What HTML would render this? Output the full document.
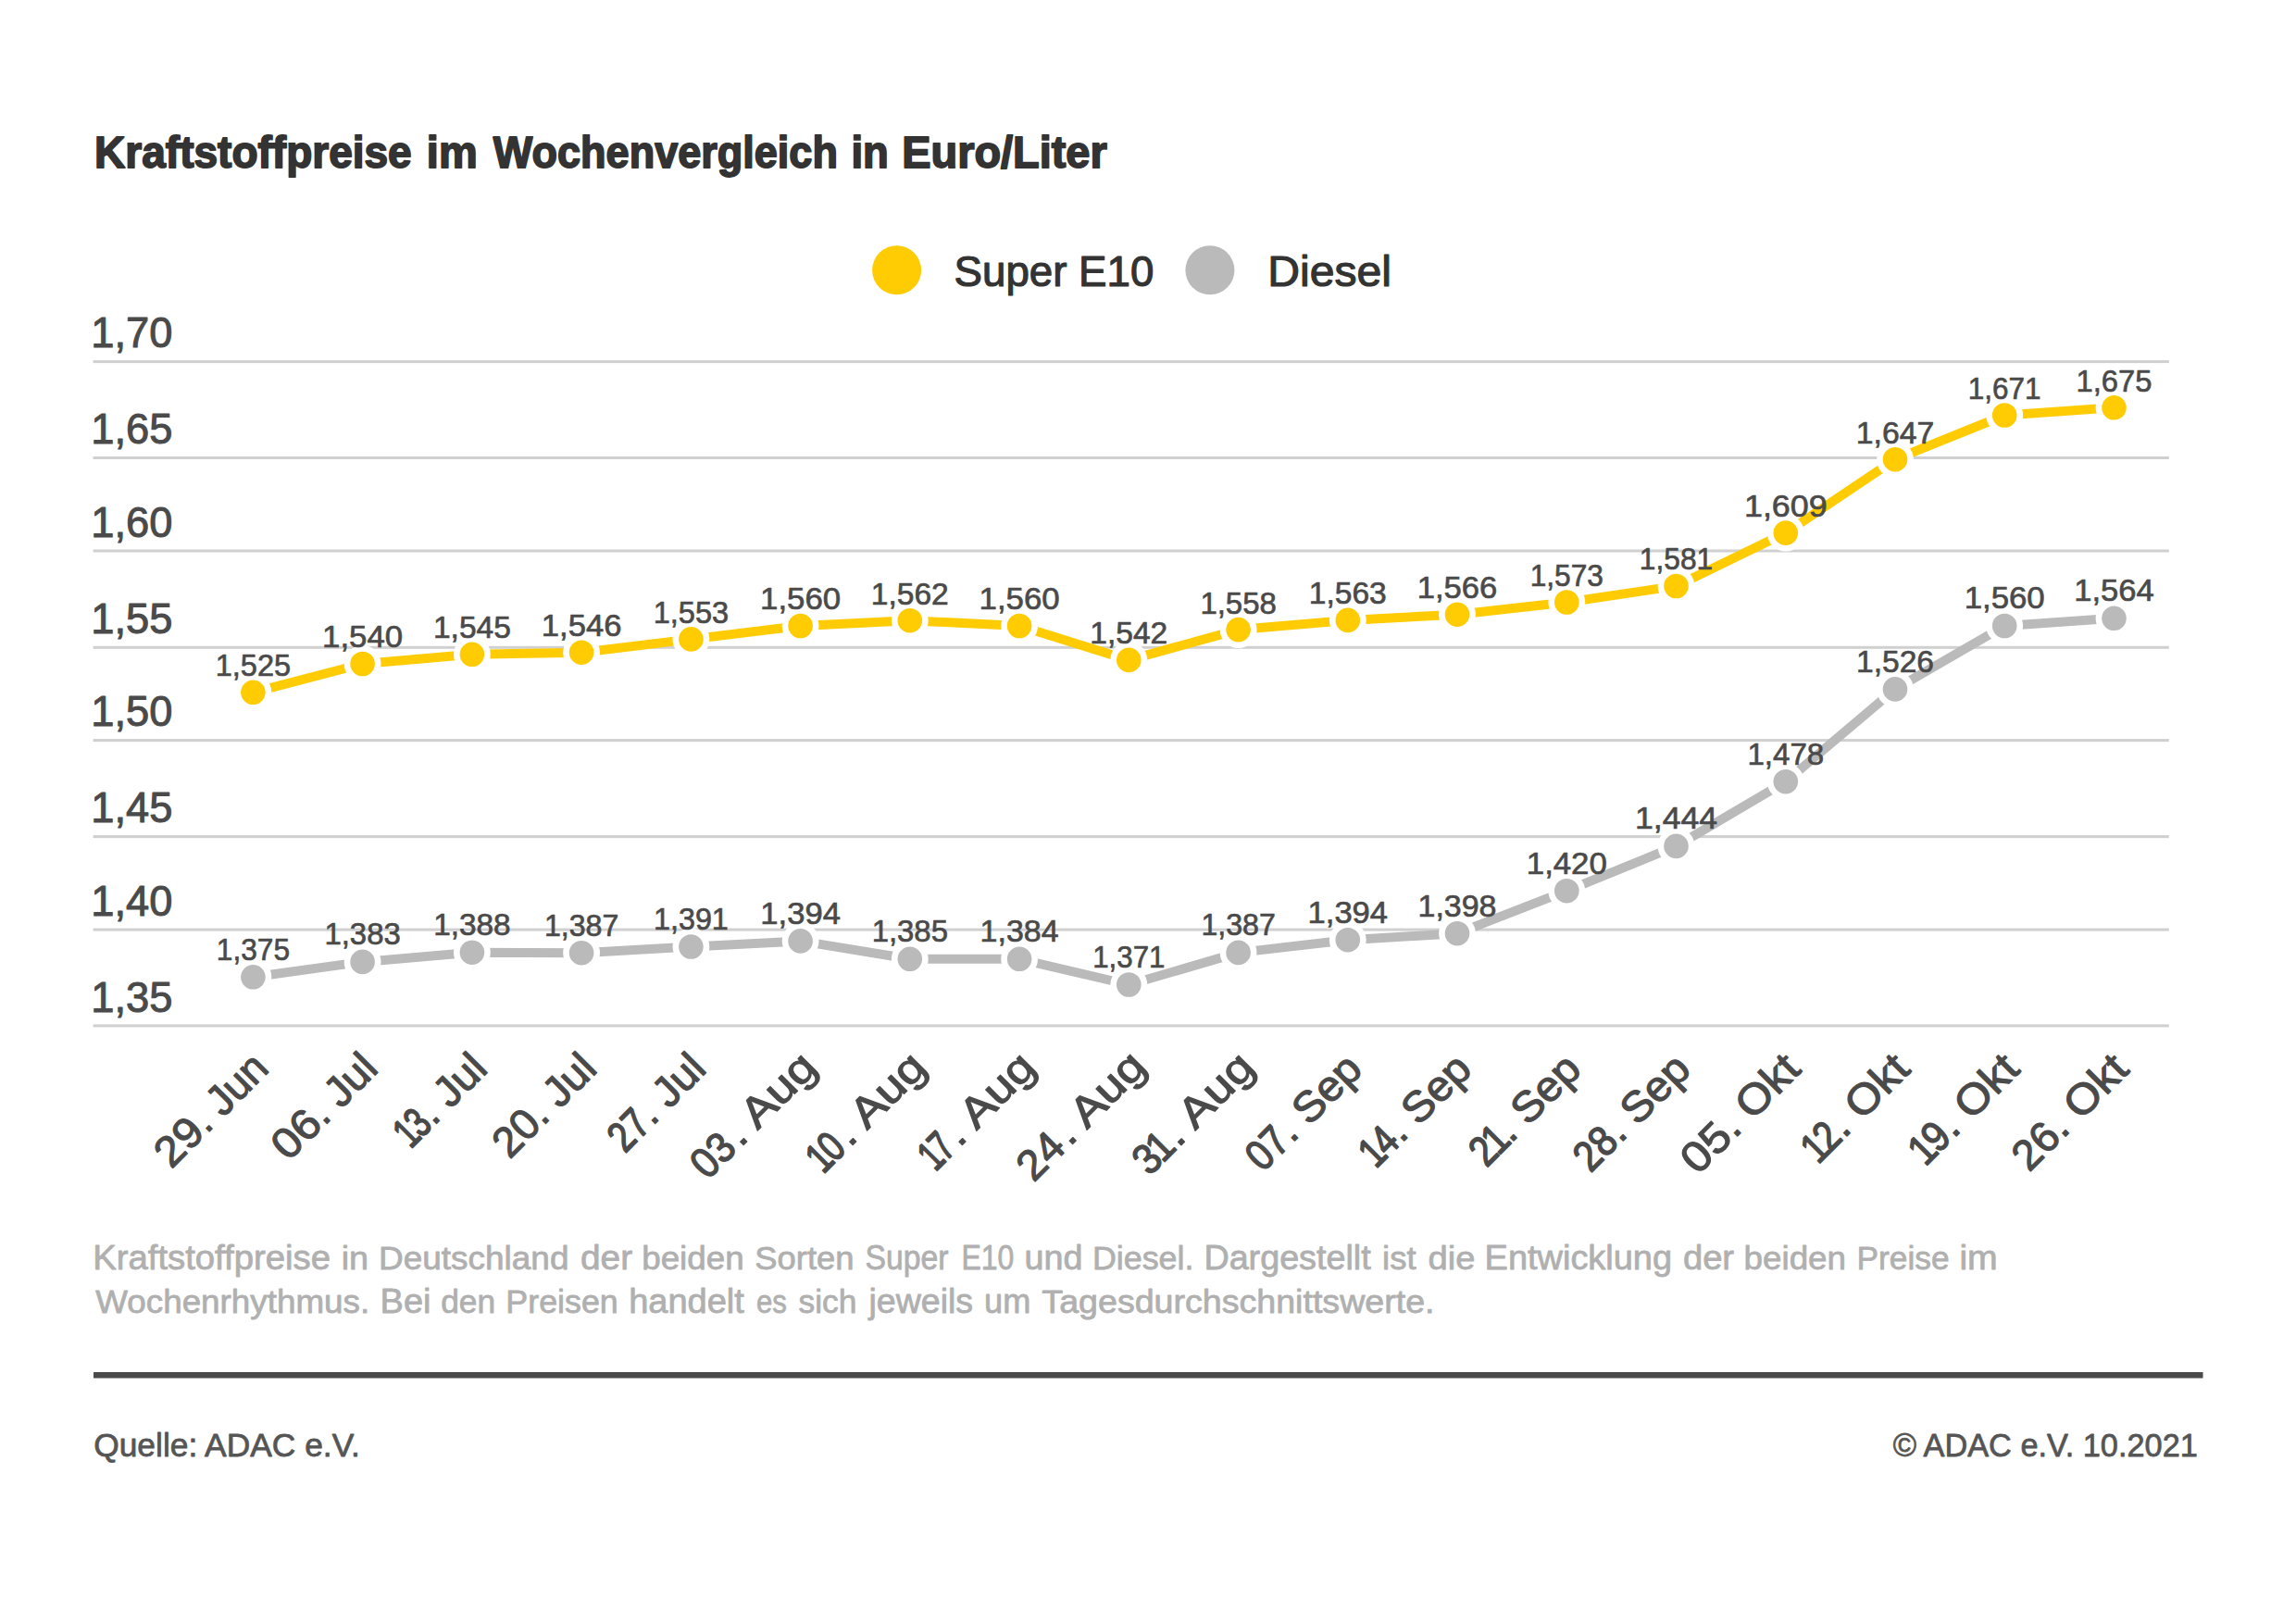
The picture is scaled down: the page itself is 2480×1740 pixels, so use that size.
<!DOCTYPE html>
<html lang="de"><head><meta charset="utf-8"><title>Kraftstoffpreise im Wochenvergleich</title>
<style>html,body{margin:0;padding:0;background:#fff}svg{display:block}text{font-family:'Liberation Sans', sans-serif;stroke-linejoin:round}</style></head>
<body><svg width="2480" height="1740" viewBox="0 0 2480 1740">
<rect width="2480" height="1740" fill="#ffffff"/>
<rect x="100.6" y="389.1" width="2242.2" height="3" fill="#d0d0d0"/>
<rect x="100.6" y="493.0" width="2242.2" height="3" fill="#d0d0d0"/>
<rect x="100.6" y="593.5" width="2242.2" height="3" fill="#d0d0d0"/>
<rect x="100.6" y="697.8" width="2242.2" height="3" fill="#d0d0d0"/>
<rect x="100.6" y="798.1" width="2242.2" height="3" fill="#d0d0d0"/>
<rect x="100.6" y="902.1" width="2242.2" height="3" fill="#d0d0d0"/>
<rect x="100.6" y="1002.6" width="2242.2" height="3" fill="#d0d0d0"/>
<rect x="100.6" y="1106.4" width="2242.2" height="3" fill="#d0d0d0"/>
<polyline fill="none" stroke="#bababa" stroke-width="10" stroke-linejoin="round" points="273.4,1055.3 391.6,1038.9 509.9,1028.7 628.1,1029.2 746.4,1022.5 864.6,1016.4 982.8,1035.8 1101.1,1035.8 1219.3,1063.5 1337.6,1028.9 1455.8,1015.2 1574.0,1008.2 1692.3,962.2 1810.5,913.9 1928.8,844.2 2047.0,744.4 2165.2,676.0 2283.5,667.8"/>
<circle cx="273.4" cy="1055.3" r="16.6" fill="#bababa" stroke="#ffffff" stroke-width="6.6"/>
<circle cx="391.6" cy="1038.9" r="16.6" fill="#bababa" stroke="#ffffff" stroke-width="6.6"/>
<circle cx="509.9" cy="1028.7" r="16.6" fill="#bababa" stroke="#ffffff" stroke-width="6.6"/>
<circle cx="628.1" cy="1029.2" r="16.6" fill="#bababa" stroke="#ffffff" stroke-width="6.6"/>
<circle cx="746.4" cy="1022.5" r="16.6" fill="#bababa" stroke="#ffffff" stroke-width="6.6"/>
<circle cx="864.6" cy="1016.4" r="16.6" fill="#bababa" stroke="#ffffff" stroke-width="6.6"/>
<circle cx="982.8" cy="1035.8" r="16.6" fill="#bababa" stroke="#ffffff" stroke-width="6.6"/>
<circle cx="1101.1" cy="1035.8" r="16.6" fill="#bababa" stroke="#ffffff" stroke-width="6.6"/>
<circle cx="1219.3" cy="1063.5" r="16.6" fill="#bababa" stroke="#ffffff" stroke-width="6.6"/>
<circle cx="1337.6" cy="1028.9" r="16.6" fill="#bababa" stroke="#ffffff" stroke-width="6.6"/>
<circle cx="1455.8" cy="1015.2" r="16.6" fill="#bababa" stroke="#ffffff" stroke-width="6.6"/>
<circle cx="1574.0" cy="1008.2" r="16.6" fill="#bababa" stroke="#ffffff" stroke-width="6.6"/>
<circle cx="1692.3" cy="962.2" r="16.6" fill="#bababa" stroke="#ffffff" stroke-width="6.6"/>
<circle cx="1810.5" cy="913.9" r="16.6" fill="#bababa" stroke="#ffffff" stroke-width="6.6"/>
<circle cx="1928.8" cy="844.2" r="16.6" fill="#bababa" stroke="#ffffff" stroke-width="6.6"/>
<circle cx="2047.0" cy="744.4" r="16.6" fill="#bababa" stroke="#ffffff" stroke-width="6.6"/>
<circle cx="2165.2" cy="676.0" r="16.6" fill="#bababa" stroke="#ffffff" stroke-width="6.6"/>
<circle cx="2283.5" cy="667.8" r="16.6" fill="#bababa" stroke="#ffffff" stroke-width="6.6"/>
<polyline fill="none" stroke="#ffcc03" stroke-width="10" stroke-linejoin="round" points="273.4,747.8 391.6,717.0 509.9,706.8 628.1,704.7 746.4,690.4 864.6,676.0 982.8,670.2 1101.1,676.0 1219.3,712.9 1337.6,680.1 1455.8,669.9 1574.0,663.7 1692.3,650.5 1810.5,633.0 1928.8,575.6 2047.0,496.2 2165.2,448.5 2283.5,440.3"/>
<circle cx="273.4" cy="747.8" r="16.6" fill="#ffcc03" stroke="#ffffff" stroke-width="6.6"/>
<circle cx="391.6" cy="717.0" r="16.6" fill="#ffcc03" stroke="#ffffff" stroke-width="6.6"/>
<circle cx="509.9" cy="706.8" r="16.6" fill="#ffcc03" stroke="#ffffff" stroke-width="6.6"/>
<circle cx="628.1" cy="704.7" r="16.6" fill="#ffcc03" stroke="#ffffff" stroke-width="6.6"/>
<circle cx="746.4" cy="690.4" r="16.6" fill="#ffcc03" stroke="#ffffff" stroke-width="6.6"/>
<circle cx="864.6" cy="676.0" r="16.6" fill="#ffcc03" stroke="#ffffff" stroke-width="6.6"/>
<circle cx="982.8" cy="670.2" r="16.6" fill="#ffcc03" stroke="#ffffff" stroke-width="6.6"/>
<circle cx="1101.1" cy="676.0" r="16.6" fill="#ffcc03" stroke="#ffffff" stroke-width="6.6"/>
<circle cx="1219.3" cy="712.9" r="16.6" fill="#ffcc03" stroke="#ffffff" stroke-width="6.6"/>
<circle cx="1337.6" cy="680.1" r="16.6" fill="#ffcc03" stroke="#ffffff" stroke-width="6.6"/>
<circle cx="1455.8" cy="669.9" r="16.6" fill="#ffcc03" stroke="#ffffff" stroke-width="6.6"/>
<circle cx="1574.0" cy="663.7" r="16.6" fill="#ffcc03" stroke="#ffffff" stroke-width="6.6"/>
<circle cx="1692.3" cy="650.5" r="16.6" fill="#ffcc03" stroke="#ffffff" stroke-width="6.6"/>
<circle cx="1810.5" cy="633.0" r="16.6" fill="#ffcc03" stroke="#ffffff" stroke-width="6.6"/>
<circle cx="1928.8" cy="575.6" r="16.6" fill="#ffcc03" stroke="#ffffff" stroke-width="6.6"/>
<circle cx="2047.0" cy="496.2" r="16.6" fill="#ffcc03" stroke="#ffffff" stroke-width="6.6"/>
<circle cx="2165.2" cy="448.5" r="16.6" fill="#ffcc03" stroke="#ffffff" stroke-width="6.6"/>
<circle cx="2283.5" cy="440.3" r="16.6" fill="#ffcc03" stroke="#ffffff" stroke-width="6.6"/>
<text transform="translate(273.4,1036.7) scale(0.932,1)" text-anchor="middle" font-size="34" fill="#4a4a4a" stroke="#4a4a4a" stroke-width="0.7">1,375</text>
<text transform="translate(391.6,1020.3) scale(0.968,1)" text-anchor="middle" font-size="34" fill="#4a4a4a" stroke="#4a4a4a" stroke-width="0.7">1,383</text>
<text transform="translate(509.9,1010.1) scale(0.981,1)" text-anchor="middle" font-size="34" fill="#4a4a4a" stroke="#4a4a4a" stroke-width="0.7">1,388</text>
<text transform="translate(628.1,1010.6) scale(0.944,1)" text-anchor="middle" font-size="34" fill="#4a4a4a" stroke="#4a4a4a" stroke-width="0.7">1,387</text>
<text transform="translate(746.4,1003.9) scale(0.950,1)" text-anchor="middle" font-size="34" fill="#4a4a4a" stroke="#4a4a4a" stroke-width="0.7">1,391</text>
<text transform="translate(864.6,997.8) scale(1.017,1)" text-anchor="middle" font-size="34" fill="#4a4a4a" stroke="#4a4a4a" stroke-width="0.7">1,394</text>
<text transform="translate(982.8,1017.2) scale(0.968,1)" text-anchor="middle" font-size="34" fill="#4a4a4a" stroke="#4a4a4a" stroke-width="0.7">1,385</text>
<text transform="translate(1101.1,1017.2) scale(0.999,1)" text-anchor="middle" font-size="34" fill="#4a4a4a" stroke="#4a4a4a" stroke-width="0.7">1,384</text>
<text transform="translate(1219.3,1044.9) scale(0.920,1)" text-anchor="middle" font-size="34" fill="#4a4a4a" stroke="#4a4a4a" stroke-width="0.7">1,371</text>
<text transform="translate(1337.6,1010.3) scale(0.944,1)" text-anchor="middle" font-size="34" fill="#4a4a4a" stroke="#4a4a4a" stroke-width="0.7">1,387</text>
<text transform="translate(1455.8,996.6) scale(1.017,1)" text-anchor="middle" font-size="34" fill="#4a4a4a" stroke="#4a4a4a" stroke-width="0.7">1,394</text>
<text transform="translate(1574.0,989.6) scale(0.999,1)" text-anchor="middle" font-size="34" fill="#4a4a4a" stroke="#4a4a4a" stroke-width="0.7">1,398</text>
<text transform="translate(1692.3,943.6) scale(1.023,1)" text-anchor="middle" font-size="34" fill="#4a4a4a" stroke="#4a4a4a" stroke-width="0.7">1,420</text>
<text transform="translate(1810.5,895.3) scale(1.048,1)" text-anchor="middle" font-size="34" fill="#4a4a4a" stroke="#4a4a4a" stroke-width="0.7">1,444</text>
<text transform="translate(1928.8,825.6) scale(0.974,1)" text-anchor="middle" font-size="34" fill="#4a4a4a" stroke="#4a4a4a" stroke-width="0.7">1,478</text>
<text transform="translate(2047.0,725.8) scale(0.987,1)" text-anchor="middle" font-size="34" fill="#4a4a4a" stroke="#4a4a4a" stroke-width="0.7">1,526</text>
<text transform="translate(2165.2,657.4) scale(1.023,1)" text-anchor="middle" font-size="34" fill="#4a4a4a" stroke="#4a4a4a" stroke-width="0.7">1,560</text>
<text transform="translate(2283.5,649.2) scale(1.017,1)" text-anchor="middle" font-size="34" fill="#4a4a4a" stroke="#4a4a4a" stroke-width="0.7">1,564</text>
<text transform="translate(273.4,730.2) scale(0.956,1)" text-anchor="middle" font-size="34" fill="#4a4a4a" stroke="#4a4a4a" stroke-width="0.7">1,525</text>
<text transform="translate(391.6,699.4) scale(1.023,1)" text-anchor="middle" font-size="34" fill="#4a4a4a" stroke="#4a4a4a" stroke-width="0.7">1,540</text>
<text transform="translate(509.9,689.2) scale(0.987,1)" text-anchor="middle" font-size="34" fill="#4a4a4a" stroke="#4a4a4a" stroke-width="0.7">1,545</text>
<text transform="translate(628.1,687.1) scale(1.017,1)" text-anchor="middle" font-size="34" fill="#4a4a4a" stroke="#4a4a4a" stroke-width="0.7">1,546</text>
<text transform="translate(746.4,672.8) scale(0.956,1)" text-anchor="middle" font-size="34" fill="#4a4a4a" stroke="#4a4a4a" stroke-width="0.7">1,553</text>
<text transform="translate(864.6,658.4) scale(1.023,1)" text-anchor="middle" font-size="34" fill="#4a4a4a" stroke="#4a4a4a" stroke-width="0.7">1,560</text>
<text transform="translate(982.8,652.6) scale(0.987,1)" text-anchor="middle" font-size="34" fill="#4a4a4a" stroke="#4a4a4a" stroke-width="0.7">1,562</text>
<text transform="translate(1101.1,658.4) scale(1.023,1)" text-anchor="middle" font-size="34" fill="#4a4a4a" stroke="#4a4a4a" stroke-width="0.7">1,560</text>
<text transform="translate(1219.3,695.3) scale(0.987,1)" text-anchor="middle" font-size="34" fill="#4a4a4a" stroke="#4a4a4a" stroke-width="0.7">1,542</text>
<text transform="translate(1337.6,662.5) scale(0.968,1)" text-anchor="middle" font-size="34" fill="#4a4a4a" stroke="#4a4a4a" stroke-width="0.7">1,558</text>
<text transform="translate(1455.8,652.3) scale(0.987,1)" text-anchor="middle" font-size="34" fill="#4a4a4a" stroke="#4a4a4a" stroke-width="0.7">1,563</text>
<text transform="translate(1574.0,646.1) scale(1.017,1)" text-anchor="middle" font-size="34" fill="#4a4a4a" stroke="#4a4a4a" stroke-width="0.7">1,566</text>
<text transform="translate(1692.3,632.9) scale(0.932,1)" text-anchor="middle" font-size="34" fill="#4a4a4a" stroke="#4a4a4a" stroke-width="0.7">1,573</text>
<text transform="translate(1810.5,615.4) scale(0.932,1)" text-anchor="middle" font-size="34" fill="#4a4a4a" stroke="#4a4a4a" stroke-width="0.7">1,581</text>
<text transform="translate(1928.8,558.0) scale(1.054,1)" text-anchor="middle" font-size="34" fill="#4a4a4a" stroke="#4a4a4a" stroke-width="0.7">1,609</text>
<text transform="translate(2047.0,478.6) scale(0.993,1)" text-anchor="middle" font-size="34" fill="#4a4a4a" stroke="#4a4a4a" stroke-width="0.7">1,647</text>
<text transform="translate(2165.2,430.9) scale(0.926,1)" text-anchor="middle" font-size="34" fill="#4a4a4a" stroke="#4a4a4a" stroke-width="0.7">1,671</text>
<text transform="translate(2283.5,422.7) scale(0.962,1)" text-anchor="middle" font-size="34" fill="#4a4a4a" stroke="#4a4a4a" stroke-width="0.7">1,675</text>
<circle cx="968.6" cy="291.8" r="26.5" fill="#ffcc03"/>
<circle cx="1306.9" cy="291.8" r="26.5" fill="#bababa"/>
<g transform="translate(292.3,1156.1) rotate(-45)"><text transform="translate(-151.7,0) scale(1.056,1)" dx="0.0 0.0" font-size="46" fill="#4a4a4a" stroke="#4a4a4a" stroke-width="1.20">29</text><text transform="scale(0.979,1)" font-size="46" fill="#4a4a4a" stroke="#4a4a4a" stroke-width="1.2" text-anchor="end">. Jun</text></g>
<g transform="translate(410.3,1156.3) rotate(-45)"><text transform="translate(-139.6,0) scale(1.068,1)" dx="0.0 0.0" font-size="46" fill="#4a4a4a" stroke="#4a4a4a" stroke-width="1.20">06</text><text transform="scale(1.008,1)" font-size="46" fill="#4a4a4a" stroke="#4a4a4a" stroke-width="1.2" text-anchor="end">. Jul</text></g>
<g transform="translate(528.5,1156.4) rotate(-45)"><text transform="translate(-117.4,0) scale(0.734,1)" dx="-4.0 -3.0" font-size="46" fill="#4a4a4a" stroke="#4a4a4a" stroke-width="1.86">13</text><text transform="scale(1.008,1)" font-size="46" fill="#4a4a4a" stroke="#4a4a4a" stroke-width="1.2" text-anchor="end">. Jul</text></g>
<g transform="translate(646.7,1156.4) rotate(-45)"><text transform="translate(-136.1,0) scale(0.998,1)" dx="0.0 0.0" font-size="46" fill="#4a4a4a" stroke="#4a4a4a" stroke-width="1.20">20</text><text transform="scale(1.008,1)" font-size="46" fill="#4a4a4a" stroke="#4a4a4a" stroke-width="1.2" text-anchor="end">. Jul</text></g>
<g transform="translate(764.9,1156.5) rotate(-45)"><text transform="translate(-127.0,0) scale(0.821,1)" dx="0.0 0.0" font-size="46" fill="#4a4a4a" stroke="#4a4a4a" stroke-width="1.65">27</text><text transform="scale(1.008,1)" font-size="46" fill="#4a4a4a" stroke="#4a4a4a" stroke-width="1.2" text-anchor="end">. Jul</text></g>
<g transform="translate(884.7,1154.9) rotate(-45)"><text transform="translate(-170.3,0) scale(0.919,1)" dx="0.0 0.0" font-size="46" fill="#4a4a4a" stroke="#4a4a4a" stroke-width="1.40">03</text><text transform="scale(1.147,1)" font-size="46" fill="#4a4a4a" stroke="#4a4a4a" stroke-width="1.2" text-anchor="end">. Aug</text></g>
<g transform="translate(1002.9,1154.9) rotate(-45)"><text transform="translate(-157.9,0) scale(0.784,1)" dx="-4.0 -3.0" font-size="46" fill="#4a4a4a" stroke="#4a4a4a" stroke-width="1.74">10</text><text transform="scale(1.147,1)" font-size="46" fill="#4a4a4a" stroke="#4a4a4a" stroke-width="1.2" text-anchor="end">. Aug</text></g>
<g transform="translate(1121.1,1155.0) rotate(-45)"><text transform="translate(-154.1,0) scale(0.700,1)" dx="-4.0 -3.0" font-size="46" fill="#4a4a4a" stroke="#4a4a4a" stroke-width="1.95">17</text><text transform="scale(1.147,1)" font-size="46" fill="#4a4a4a" stroke="#4a4a4a" stroke-width="1.2" text-anchor="end">. Aug</text></g>
<g transform="translate(1240.3,1154.0) rotate(-45)"><text transform="translate(-175.0,0) scale(1.013,1)" dx="0.0 0.0" font-size="46" fill="#4a4a4a" stroke="#4a4a4a" stroke-width="1.20">24</text><text transform="scale(1.147,1)" font-size="46" fill="#4a4a4a" stroke="#4a4a4a" stroke-width="1.2" text-anchor="end">. Aug</text></g>
<g transform="translate(1357.5,1155.1) rotate(-45)"><text transform="translate(-163.8,0) scale(0.919,1)" dx="0.0 -4.0" font-size="46" fill="#4a4a4a" stroke="#4a4a4a" stroke-width="1.40">31</text><text transform="scale(1.147,1)" font-size="46" fill="#4a4a4a" stroke="#4a4a4a" stroke-width="1.2" text-anchor="end">. Aug</text></g>
<g transform="translate(1473.7,1157.1) rotate(-45)"><text transform="translate(-155.1,0) scale(0.872,1)" dx="0.0 0.0" font-size="46" fill="#4a4a4a" stroke="#4a4a4a" stroke-width="1.52">07</text><text transform="scale(1.029,1)" font-size="46" fill="#4a4a4a" stroke="#4a4a4a" stroke-width="1.2" text-anchor="end">. Sep</text></g>
<g transform="translate(1591.9,1157.1) rotate(-45)"><text transform="translate(-146.4,0) scale(0.812,1)" dx="-4.0 -3.0" font-size="46" fill="#4a4a4a" stroke="#4a4a4a" stroke-width="1.67">14</text><text transform="scale(1.029,1)" font-size="46" fill="#4a4a4a" stroke="#4a4a4a" stroke-width="1.2" text-anchor="end">. Sep</text></g>
<g transform="translate(1710.1,1157.2) rotate(-45)"><text transform="translate(-147.8,0) scale(0.844,1)" dx="0.0 -4.0" font-size="46" fill="#4a4a4a" stroke="#4a4a4a" stroke-width="1.59">21</text><text transform="scale(1.029,1)" font-size="46" fill="#4a4a4a" stroke="#4a4a4a" stroke-width="1.2" text-anchor="end">. Sep</text></g>
<g transform="translate(1828.3,1157.2) rotate(-45)"><text transform="translate(-156.1,0) scale(0.892,1)" dx="0.0 0.0" font-size="46" fill="#4a4a4a" stroke="#4a4a4a" stroke-width="1.47">28</text><text transform="scale(1.029,1)" font-size="46" fill="#4a4a4a" stroke="#4a4a4a" stroke-width="1.2" text-anchor="end">. Sep</text></g>
<g transform="translate(1946.9,1156.9) rotate(-45)"><text transform="translate(-159.9,0) scale(1.095,1)" dx="0.0 0.0" font-size="46" fill="#4a4a4a" stroke="#4a4a4a" stroke-width="1.20">05</text><text transform="scale(1.069,1)" font-size="46" fill="#4a4a4a" stroke="#4a4a4a" stroke-width="1.2" text-anchor="end">. Okt</text></g>
<g transform="translate(2065.1,1156.9) rotate(-45)"><text transform="translate(-140.2,0) scale(0.824,1)" dx="-4.0 -3.0" font-size="46" fill="#4a4a4a" stroke="#4a4a4a" stroke-width="1.64">12</text><text transform="scale(1.069,1)" font-size="46" fill="#4a4a4a" stroke="#4a4a4a" stroke-width="1.2" text-anchor="end">. Okt</text></g>
<g transform="translate(2183.3,1156.9) rotate(-45)"><text transform="translate(-143.2,0) scale(0.891,1)" dx="-4.0 -3.0" font-size="46" fill="#4a4a4a" stroke="#4a4a4a" stroke-width="1.47">19</text><text transform="scale(1.069,1)" font-size="46" fill="#4a4a4a" stroke="#4a4a4a" stroke-width="1.2" text-anchor="end">. Okt</text></g>
<g transform="translate(2301.5,1157.0) rotate(-45)"><text transform="translate(-155.2,0) scale(1.003,1)" dx="0.0 0.0" font-size="46" fill="#4a4a4a" stroke="#4a4a4a" stroke-width="1.20">26</text><text transform="scale(1.069,1)" font-size="46" fill="#4a4a4a" stroke="#4a4a4a" stroke-width="1.2" text-anchor="end">. Okt</text></g>
<rect x="101" y="1482" width="2278.5" height="6.5" fill="#4a4a4a"/>
<text transform="translate(102.09,180.8) scale(0.9491,1)" font-size="48.5" font-weight="bold" fill="#333333" stroke="#333333" stroke-width="1.8">Kraftstoffpreise</text>
<text transform="translate(460.85,180.8) scale(0.9692,1)" font-size="48.5" font-weight="bold" fill="#333333" stroke="#333333" stroke-width="1.8">im</text>
<text transform="translate(532.84,180.8) scale(0.9286,1)" font-size="48.5" font-weight="bold" fill="#333333" stroke="#333333" stroke-width="1.8">Wochenvergleich</text>
<text transform="translate(919.42,180.8) scale(0.9375,1)" font-size="48.5" font-weight="bold" fill="#333333" stroke="#333333" stroke-width="1.8">in</text>
<text transform="translate(974.26,180.8) scale(0.9671,1)" font-size="48.5" font-weight="bold" fill="#333333" stroke="#333333" stroke-width="1.8">Euro/Liter</text>
<text transform="translate(1030.56,308.5) scale(0.9717,1)" font-size="47" fill="#333333" stroke="#333333" stroke-width="1.2">Super E10</text>
<text transform="translate(1369.37,308.5) scale(1.0230,1)" font-size="47" fill="#333333" stroke="#333333" stroke-width="1.2">Diesel</text>
<text transform="translate(100.16,1371.0) scale(1.0644,1)" font-size="36" fill="#b0b0b0" stroke="#b0b0b0" stroke-width="0.8">Kraftstoffpreise</text>
<text transform="translate(368.65,1371.0) scale(1.0512,1)" font-size="36" fill="#b0b0b0" stroke="#b0b0b0" stroke-width="0.8">in</text>
<text transform="translate(409.05,1371.0) scale(1.0269,1)" font-size="36" fill="#b0b0b0" stroke="#b0b0b0" stroke-width="0.8">Deutschland</text>
<text transform="translate(626.98,1371.0) scale(1.0781,1)" font-size="36" fill="#b0b0b0" stroke="#b0b0b0" stroke-width="0.8">der</text>
<text transform="translate(693.20,1371.0) scale(1.0217,1)" font-size="36" fill="#b0b0b0" stroke="#b0b0b0" stroke-width="0.8">beiden</text>
<text transform="translate(815.25,1371.0) scale(1.0116,1)" font-size="36" fill="#b0b0b0" stroke="#b0b0b0" stroke-width="0.8">Sorten</text>
<text transform="translate(934.53,1371.0) scale(0.9373,1)" font-size="36" fill="#b0b0b0" stroke="#b0b0b0" stroke-width="0.8">Super</text>
<text transform="translate(1038.50,1371.0) scale(0.8884,1)" font-size="36" fill="#b0b0b0" stroke="#b0b0b0" stroke-width="0.8">E10</text>
<text transform="translate(1106.56,1371.0) scale(1.0479,1)" font-size="36" fill="#b0b0b0" stroke="#b0b0b0" stroke-width="0.8">und</text>
<text transform="translate(1179.93,1371.0) scale(0.9953,1)" font-size="36" fill="#b0b0b0" stroke="#b0b0b0" stroke-width="0.8">Diesel.</text>
<text transform="translate(1300.40,1371.0) scale(1.0478,1)" font-size="36" fill="#b0b0b0" stroke="#b0b0b0" stroke-width="0.8">Dargestellt</text>
<text transform="translate(1493.12,1371.0) scale(1.0110,1)" font-size="36" fill="#b0b0b0" stroke="#b0b0b0" stroke-width="0.8">ist</text>
<text transform="translate(1542.60,1371.0) scale(1.0586,1)" font-size="36" fill="#b0b0b0" stroke="#b0b0b0" stroke-width="0.8">die</text>
<text transform="translate(1603.59,1371.0) scale(1.0543,1)" font-size="36" fill="#b0b0b0" stroke="#b0b0b0" stroke-width="0.8">Entwicklung</text>
<text transform="translate(1817.90,1371.0) scale(1.0604,1)" font-size="36" fill="#b0b0b0" stroke="#b0b0b0" stroke-width="0.8">der</text>
<text transform="translate(1883.50,1371.0) scale(1.0227,1)" font-size="36" fill="#b0b0b0" stroke="#b0b0b0" stroke-width="0.8">beiden</text>
<text transform="translate(2005.57,1371.0) scale(0.9801,1)" font-size="36" fill="#b0b0b0" stroke="#b0b0b0" stroke-width="0.8">Preise</text>
<text transform="translate(2116.38,1371.0) scale(1.0885,1)" font-size="36" fill="#b0b0b0" stroke="#b0b0b0" stroke-width="0.8">im</text>
<text transform="translate(103.21,1418.0) scale(1.0227,1)" font-size="36" fill="#b0b0b0" stroke="#b0b0b0" stroke-width="0.8">Wochenrhythmus.</text>
<text transform="translate(410.59,1418.0) scale(1.0542,1)" font-size="36" fill="#b0b0b0" stroke="#b0b0b0" stroke-width="0.8">Bei</text>
<text transform="translate(476.18,1418.0) scale(0.9825,1)" font-size="36" fill="#b0b0b0" stroke="#b0b0b0" stroke-width="0.8">den</text>
<text transform="translate(546.33,1418.0) scale(0.9952,1)" font-size="36" fill="#b0b0b0" stroke="#b0b0b0" stroke-width="0.8">Preisen</text>
<text transform="translate(679.14,1418.0) scale(1.0563,1)" font-size="36" fill="#b0b0b0" stroke="#b0b0b0" stroke-width="0.8">handelt</text>
<text transform="translate(816.90,1418.0) scale(0.8650,1)" font-size="36" fill="#b0b0b0" stroke="#b0b0b0" stroke-width="0.8">es</text>
<text transform="translate(862.59,1418.0) scale(0.9826,1)" font-size="36" fill="#b0b0b0" stroke="#b0b0b0" stroke-width="0.8">sich</text>
<text transform="translate(938.54,1418.0) scale(1.0419,1)" font-size="36" fill="#b0b0b0" stroke="#b0b0b0" stroke-width="0.8">jeweils</text>
<text transform="translate(1063.03,1418.0) scale(1.0047,1)" font-size="36" fill="#b0b0b0" stroke="#b0b0b0" stroke-width="0.8">um</text>
<text transform="translate(1125.37,1418.0) scale(1.0446,1)" font-size="36" fill="#b0b0b0" stroke="#b0b0b0" stroke-width="0.8">Tagesdurchschnittswerte.</text>
<text transform="translate(101.18,1573.0) scale(0.9831,1)" font-size="36" fill="#555555" stroke="#555555" stroke-width="0.8">Quelle: ADAC e.V.</text>
<text transform="translate(2044.64,1573.0) scale(0.9532,1)" font-size="36" fill="#555555" stroke="#555555" stroke-width="0.8">© ADAC e.V. 10.2021</text>
<text transform="translate(98.32,375.4) scale(0.9850,1)" font-size="46" fill="#4a4a4a" stroke="#4a4a4a" stroke-width="1.0">1,70</text>
<text transform="translate(98.32,479.3) scale(0.9850,1)" font-size="46" fill="#4a4a4a" stroke="#4a4a4a" stroke-width="1.0">1,65</text>
<text transform="translate(98.32,579.8) scale(0.9850,1)" font-size="46" fill="#4a4a4a" stroke="#4a4a4a" stroke-width="1.0">1,60</text>
<text transform="translate(98.32,684.1) scale(0.9850,1)" font-size="46" fill="#4a4a4a" stroke="#4a4a4a" stroke-width="1.0">1,55</text>
<text transform="translate(98.32,784.4) scale(0.9850,1)" font-size="46" fill="#4a4a4a" stroke="#4a4a4a" stroke-width="1.0">1,50</text>
<text transform="translate(98.32,888.4) scale(0.9850,1)" font-size="46" fill="#4a4a4a" stroke="#4a4a4a" stroke-width="1.0">1,45</text>
<text transform="translate(98.32,988.9) scale(0.9850,1)" font-size="46" fill="#4a4a4a" stroke="#4a4a4a" stroke-width="1.0">1,40</text>
<text transform="translate(98.32,1092.7) scale(0.9850,1)" font-size="46" fill="#4a4a4a" stroke="#4a4a4a" stroke-width="1.0">1,35</text>
</svg></body></html>
